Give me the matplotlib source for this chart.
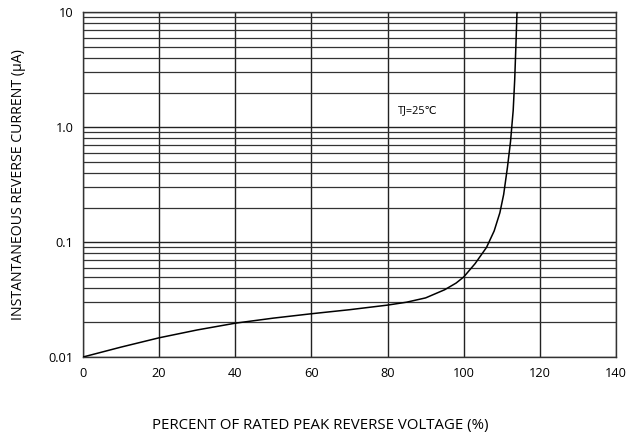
import matplotlib.pyplot as plt
from matplotlib.ticker import LogLocator, NullFormatter, FixedLocator

plt.rcParams['font.family'] = ['Open Sans', 'DejaVu Sans']

# curve (percent of rated voltage, current in uA)
voltage_pct = [0, 10, 20, 30, 40, 50, 60, 70, 80, 85, 90, 95, 98, 100, 103,
               106, 108, 109.5, 110.5, 111.5, 112.3, 113.0, 113.4, 113.7, 114.0]
current_ua = [0.0100, 0.0122, 0.0147, 0.0172, 0.0197, 0.0218, 0.0238, 0.0258,
              0.0283, 0.0300, 0.0327, 0.0385, 0.0440, 0.0497, 0.065, 0.090,
              0.125, 0.18, 0.26, 0.45, 0.75, 1.4, 2.6, 5.0, 10.0]

x_ticks = [0, 20, 40, 60, 80, 100, 120, 140]
y_ticks = [0.01, 0.1, 1.0, 10]
y_tick_labels = ["0.01", "0.1", "1.0", "10"]


def main():
    fig = plt.figure(figsize=(6.43, 4.37), dpi=100)
    ax = fig.add_axes([0.129, 0.183, 0.829, 0.789])

    ax.plot(voltage_pct, current_ua, color="black", lw=1.1, zorder=3)

    ax.set_yscale("log")
    ax.set_xlim(0, 140)
    ax.set_ylim(0.01, 10)

    ax.xaxis.set_major_locator(FixedLocator(x_ticks))
    ax.set_yticks(y_ticks)
    ax.set_yticklabels(y_tick_labels)
    ax.yaxis.set_minor_locator(LogLocator(base=10, subs=range(2, 10)))
    ax.yaxis.set_minor_formatter(NullFormatter())

    ax.grid(which="major", color="#222222", lw=1.0)
    ax.grid(which="minor", axis="y", color="#333333", lw=0.9)
    ax.tick_params(which="both", length=0, labelsize=9.2, pad=7)

    for s in ax.spines.values():
        s.set_color("#333333")
        s.set_linewidth(1.0)

    ax.text(88, 1.4, "TJ=25℃", fontsize=7.8, va="center", ha="center",
            family=['Open Sans', 'DejaVu Sans'])

    ax.set_ylabel("INSTANTANEOUS REVERSE CURRENT (μA)", fontsize=10.2, labelpad=16)
    fig.text(0.498, 0.027, "PERCENT OF RATED PEAK REVERSE VOLTAGE (%)",
             fontsize=10.8, ha="center", va="center")

    fig.savefig("out.png", dpi=100)


if __name__ == "__main__":
    main()
